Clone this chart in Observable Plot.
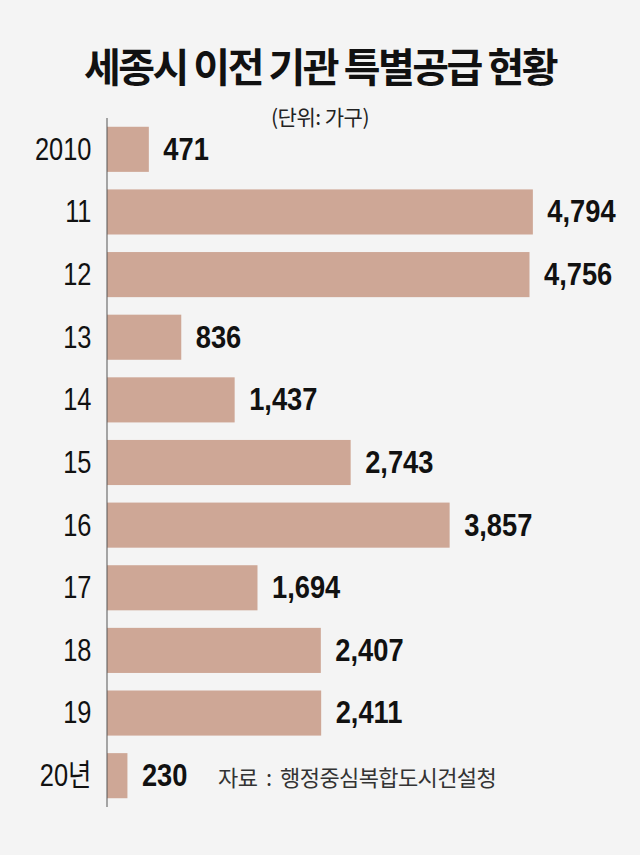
<!DOCTYPE html>
<html>
<head>
<meta charset="utf-8">
<script src="https://cdn.jsdelivr.net/npm/d3@7"></script>
<script src="https://cdn.jsdelivr.net/npm/@observablehq/plot@0.6"></script>
<style>
  html, body { margin: 0; padding: 0; background: #f4f4f4; }
  #wrap { position: relative; width: 640px; height: 855px; background: #f4f4f4; overflow: hidden; }
  #title { position: absolute; left: 0; width: 640px; top: 41px; text-align: center;
    font-family: "Noto Sans CJK KR", sans-serif; font-weight: 700; font-size: 40px;
    letter-spacing: -2.5px; line-height: 48px; color: #111; }
  #sub { position: absolute; left: 0; width: 640px; top: 101px; text-align: center;
    font-family: "Noto Sans CJK KR", sans-serif; font-size: 21px; letter-spacing: -0.5px;
    line-height: 30px; color: #222; }
  #chart { position: absolute; left: 0; top: 118px; }
  #source { position: absolute; left: 218px; top: 760px;
    font-family: "Noto Sans CJK KR", sans-serif; font-size: 22px; letter-spacing: -0.6px;
    line-height: 32px; color: #333; white-space: pre; }
</style>
</head>
<body>
<div id="wrap">
  <div id="title">세종시 이전 기관 특별공급 현황</div>
  <div id="sub">(단위: 가구)</div>
  <div id="chart"></div>
  <div id="source">자료  :  행정중심복합도시건설청</div>
</div>
<script>
const years = ["2010", "11", "12", "13", "14", "15", "16", "17", "18", "19", "20년"];
const households = [471, 4794, 4756, 836, 1437, 2743, 3857, 1694, 2407, 2411, 230];

const data = years.map((y, i) => ({year: y, value: households[i]}));
const fmt = d3.format(",");

const chart = Plot.plot({
  width: 640,
  height: 737,
  marginLeft: 107,
  marginRight: 0,
  marginTop: 0,
  marginBottom: 48,
  style: {background: "transparent", overflow: "visible"},
  x: {domain: [0, 6000], axis: null},
  y: {domain: years, paddingInner: 0.28, paddingOuter: 0.14, round: false},
  marks: [
    Plot.barX(data, {x: "value", y: "year", fill: "#cea796"}),
    Plot.ruleX([0], {stroke: "#555", strokeWidth: 1, dx: -0.5}),
    Plot.axisY({tickSize: 0, tickPadding: 16, fontSize: 31, fill: "#111",
      fontFamily: "'Liberation Sans', 'Noto Sans CJK KR', sans-serif", label: null,
      className: "ylab"}),
    Plot.text(data, {x: "value", y: "year", text: d => fmt(d.value), dx: 14,
      textAnchor: "start", fontSize: 31, fontWeight: "bold", fill: "#111",
      fontFamily: "'Liberation Sans', sans-serif", className: "vlab"})
  ]
});
document.getElementById("chart").appendChild(chart);

// condense the Helvetica-like numerals horizontally, as in the reference
d3.select(chart).selectAll("text").each(function() {
  const t = this.getAttribute("transform") || "";
  const isValue = this.closest(".vlab") !== null;
  this.setAttribute("transform", t + (isValue ? " scale(0.88,1)" : " scale(0.82,1)"));
});
</script>
</body>
</html>
